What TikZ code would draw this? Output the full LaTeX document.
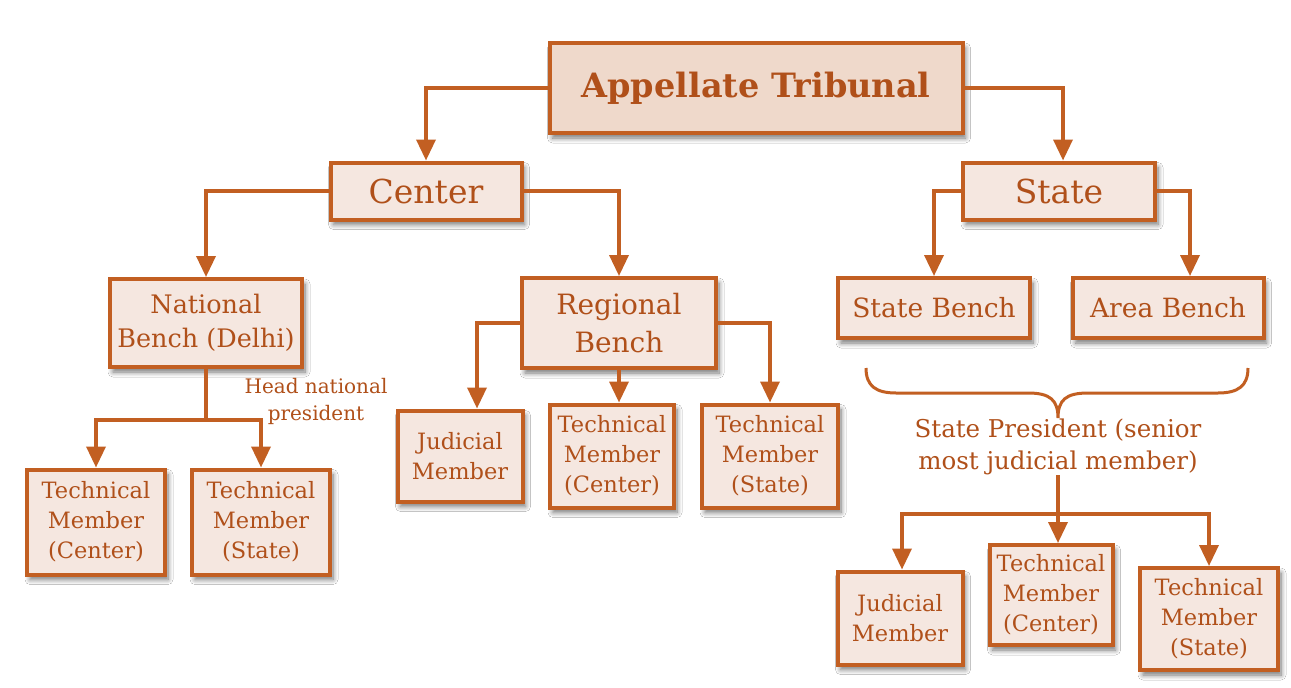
\documentclass[tikz,border=0pt]{standalone}
\usepackage{fontspec}
\setmainfont{DejaVu Serif}
\usetikzlibrary{arrows.meta,shadows.blur,calc}
\definecolor{txt}{HTML}{B0501A}
\definecolor{brd}{HTML}{C25F22}
\definecolor{topfill}{HTML}{EFD9CB}
\definecolor{boxfill}{HTML}{F5E7E0}
\tikzset{
  box/.style={draw=brd, line width=4pt, fill=boxfill, text=txt, align=center,
    inner sep=0pt, blur shadow={shadow xshift=3pt, shadow yshift=-5pt, shadow blur steps=8, shadow blur radius=5pt, shadow opacity=55}},
  conn/.style={draw=brd, line width=3.5pt},
  arr/.style={conn, -{Triangle[width=19pt,length=21pt]}},
  lbl/.style={text=txt, align=center, inner sep=0pt},
  memb/.style={box, font=\fontsize{22.5}{30}\selectfont},
}
\begin{document}
\begin{tikzpicture}[x=1pt,y=-1pt]
\useasboundingbox[fill=white] (0,0) rectangle (1291,688);
% nodes
\node[box, fill=topfill, minimum width=413pt, minimum height=90pt, font=\fontsize{33.5}{38}\selectfont\bfseries] (AT) at (756,88) {Appellate Tribunal};
\node[box, minimum width=191pt, minimum height=57pt, font=\fontsize{33}{36}\selectfont] (CE) at (426,191) {Center};
\node[box, minimum width=192pt, minimum height=57pt, font=\fontsize{33}{36}\selectfont] (ST) at (1059,191) {State};
\node[box, minimum width=192pt, minimum height=88pt, font=\fontsize{25.5}{34}\selectfont] (NB) at (206,323) {National\\Bench (Delhi)};
\node[box, minimum width=194pt, minimum height=90pt, font=\fontsize{28}{38}\selectfont] (RB) at (619,323) {Regional\\Bench};
\node[box, minimum width=192pt, minimum height=60pt, font=\fontsize{26.5}{30}\selectfont] (SB) at (934,308) {State Bench};
\node[box, minimum width=191pt, minimum height=60pt, font=\fontsize{26.5}{30}\selectfont] (AB) at (1168,308) {Area Bench};
% national bench members
\node[memb, minimum width=138pt, minimum height=105pt] (TC1) at (96,522) {Technical\\Member\\(Center)};
\node[memb, minimum width=138pt, minimum height=105pt] (TS1) at (261,522) {Technical\\Member\\(State)};
\node[lbl, font=\fontsize{20}{27}\selectfont] (HNP) at (316,401) {Head national\\president};
% regional bench members
\node[memb, minimum width=125pt, minimum height=91pt] (J2) at (460,456) {Judicial\\Member};
\node[memb, minimum width=124pt, minimum height=103pt] (TC2) at (612,456) {Technical\\Member\\(Center)};
\node[memb, minimum width=136pt, minimum height=103pt] (TS2) at (770,456) {Technical\\Member\\(State)};
% state president
\node[lbl, font=\fontsize{24.5}{32}\selectfont] (SP) at (1058,447) {State President (senior\\most judicial member)};
\node[memb, minimum width=125pt, minimum height=93pt] (J3) at (900,618) {Judicial\\Member};
\node[memb, minimum width=123pt, minimum height=100pt] (TC3) at (1051,595) {Technical\\Member\\(Center)};
\node[memb, minimum width=138pt, minimum height=102pt] (TS3) at (1209,619) {Technical\\Member\\(State)};
% connectors
\draw[arr] (AT.west) -| (CE.north);
\draw[arr] (AT.east) -| ([xshift=4pt]ST.north);
\draw[arr] (CE.west) -| (NB.north);
\draw[arr] (CE.east) -| (RB.north);
\draw[arr] (ST.west) -| (SB.north);
\draw[arr] (ST.east) -| ([xshift=22pt]AB.north);
\coordinate (nbj) at ($(NB.south)+(0,51)$);
\draw[conn] (NB.south) -- (nbj);
\draw[arr] (nbj) -| (TC1.north);
\draw[arr] (nbj) -| (TS1.north);
\draw[arr] (RB.west) -| ([xshift=17pt]J2.north);
\draw[arr] (RB.south) -- (RB.south |- TC2.north);
\draw[arr] (RB.east) -| (TS2.north);
% brace
\draw[conn, line width=3pt] (866,368) .. controls (866,386) and (876,393) .. (896,393) -- (1028,393)
  .. controls (1050,393) and (1058,400) .. (1058,418)
  .. controls (1058,400) and (1066,393) .. (1088,393) -- (1218,393)
  .. controls (1238,393) and (1248,386) .. (1248,368);
\coordinate (spj) at ($(SP.south)+(0,39)$);
\draw[arr] (SP.south) -- ([xshift=7pt]TC3.north);
\draw[arr] (spj) -| ([xshift=2pt]J3.north);
\draw[arr] (spj) -| (TS3.north);
\end{tikzpicture}
\end{document}
